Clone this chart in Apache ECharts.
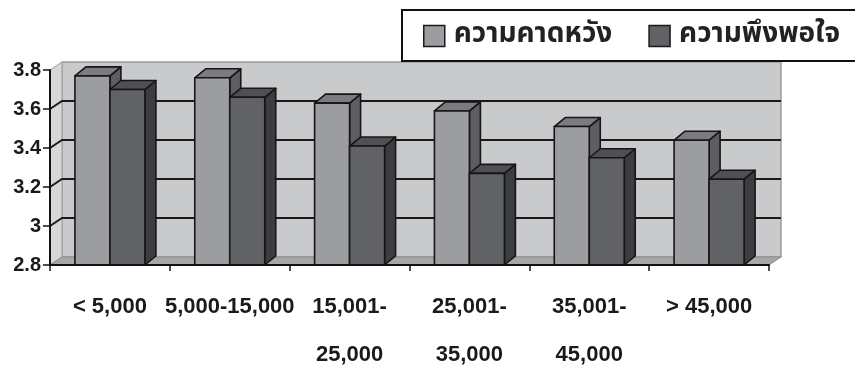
<!DOCTYPE html>
<html>
<head>
<meta charset="utf-8">
<script src="https://cdn.jsdelivr.net/npm/echarts@6/dist/echarts.min.js"></script>
<style>
  html, body { margin: 0; padding: 0; background: #fff; }
  #chart { width: 855px; height: 367px; }
</style>
</head>
<body>
<div id="chart"></div>
<script>
// Income bands and the two survey scores for each band
const categories = ['< 5,000', '5,000-15,000', '15,001-\n25,000', '25,001-\n35,000', '35,001-\n45,000', '> 45,000'];
const expectation = [3.77, 3.76, 3.63, 3.59, 3.51, 3.44];
const satisfaction = [3.70, 3.66, 3.41, 3.27, 3.35, 3.24];
const seriesNames = ['ความคาดหวัง', 'ความพึงพอใจ'];
const yTicks = [2.8, 3.0, 3.2, 3.4, 3.6, 3.8];

// depth offsets for the pseudo-3D look
const WALL_DX = 12, WALL_DY = -8;
const BAR_DX = 11, BAR_DY = -9;
const BAR_FRACTION = 0.292;
const Y_MIN = yTicks[0], Y_MAX = yTicks[yTicks.length - 1];

const palette = [
  { front: '#9c9da0', top: '#7b7c7f', side: '#5d5e61' },
  { front: '#616265', top: '#4f5053', side: '#3c3d40' }
];
const EDGE = '#161616';

function wallRenderer(params, api) {
  const cs = params.coordSys;
  const left = cs.x, right = cs.x + cs.width;
  const yTop = api.coord([0, Y_MAX])[1];
  const yBot = api.coord([0, Y_MIN])[1];
  return {
    type: 'group',
    children: [
      { type: 'polygon', shape: { points: [[left + WALL_DX, yTop + WALL_DY], [right + WALL_DX, yTop + WALL_DY], [right + WALL_DX, yBot + WALL_DY], [left + WALL_DX, yBot + WALL_DY]] },
        style: { fill: '#c9cacc', stroke: '#9b9c9e', lineWidth: 1.5 } },
      { type: 'polygon', shape: { points: [[left, yTop], [left + WALL_DX, yTop + WALL_DY], [left + WALL_DX, yBot + WALL_DY], [left, yBot]] },
        style: { fill: '#d6d7d9', stroke: '#9b9c9e', lineWidth: 1 } },
      { type: 'polygon', shape: { points: [[left, yBot], [left + WALL_DX, yBot + WALL_DY], [right + WALL_DX, yBot + WALL_DY], [right, yBot]] },
        style: { fill: '#a6a7aa', stroke: '#8a8b8d', lineWidth: 1 } }
    ]
  };
}

function gridRenderer(params, api) {
  const cs = params.coordSys;
  const left = cs.x, right = cs.x + cs.width;
  const y = api.coord([0, api.value(0)])[1];
  return {
    type: 'polyline',
    shape: { points: [[left, y], [left + WALL_DX, y + WALL_DY], [right + WALL_DX, y + WALL_DY]] },
    style: { stroke: '#1a1a1a', lineWidth: 2, fill: null }
  };
}

function barRenderer(slot) {
  const c = palette[slot];
  return function (params, api) {
    const idx = api.value(0);
    const val = api.value(1);
    const topPt = api.coord([idx, val]);
    const basePt = api.coord([idx, Y_MIN]);
    const band = api.size([1, 0])[0];
    const w = band * BAR_FRACTION;
    const x0 = topPt[0] + (slot === 0 ? -w : 0);
    const x1 = x0 + w;
    const yT = topPt[1], yB = basePt[1];
    const stroke = { stroke: EDGE, lineWidth: 1.6, lineJoin: 'round' };
    return {
      type: 'group',
      children: [
        { type: 'polygon', shape: { points: [[x1, yT], [x1 + BAR_DX, yT + BAR_DY], [x1 + BAR_DX, yB + BAR_DY], [x1, yB]] },
          style: Object.assign({ fill: c.side }, stroke) },
        { type: 'polygon', shape: { points: [[x0, yT], [x0 + BAR_DX, yT + BAR_DY], [x1 + BAR_DX, yT + BAR_DY], [x1, yT]] },
          style: Object.assign({ fill: c.top }, stroke) },
        { type: 'rect', shape: { x: x0, y: yT, width: w, height: yB - yT },
          style: Object.assign({ fill: c.front }, stroke) }
      ]
    };
  };
}

const chart = echarts.init(document.getElementById('chart'), null, { renderer: 'canvas' });
chart.setOption({
  backgroundColor: '#ffffff',
  animation: false,
  textStyle: { fontFamily: 'Liberation Sans, Arial, sans-serif' },
  legend: {
    data: seriesNames,
    orient: 'horizontal',
    left: 402,
    top: 10,
    width: 520,
    padding: [12, 60, 11, 21],
    itemGap: 36,
    itemWidth: 21,
    itemHeight: 21,
    icon: 'rect',
    backgroundColor: '#ffffff',
    borderColor: '#111111',
    borderWidth: 2,
    borderRadius: 0,
    itemStyle: { borderColor: '#1a1a1a', borderWidth: 1.5 },
    textStyle: { fontSize: 28, fontWeight: 'bold', color: '#222', lineHeight: 28,
      fontFamily: 'Noto Sans Thai, Noto Sans, sans-serif', padding: [0, 0, 0, 4] }
  },
  grid: { left: 50, right: 86, top: 70, bottom: 102, containLabel: false, outerBoundsMode: 'none' },
  xAxis: {
    type: 'category',
    data: categories,
    z: 6,
    axisLine: { lineStyle: { color: '#111', width: 2 } },
    axisTick: { show: true, length: 6, interval: 0, lineStyle: { color: '#111', width: 1.5 } },
    axisLabel: {
      interval: 0, margin: 18, color: '#1a1a1a', fontSize: 22, fontWeight: 'bold',
      lineHeight: 48, fontFamily: 'Liberation Sans, Arial, sans-serif'
    },
    splitLine: { show: false }
  },
  yAxis: {
    type: 'value',
    min: Y_MIN, max: Y_MAX, interval: 0.2,
    z: 6,
    axisLine: { show: true, lineStyle: { color: '#111', width: 2 } },
    axisTick: { show: true, length: 7, lineStyle: { color: '#111', width: 1.5 } },
    axisLabel: {
      margin: 9, color: '#1a1a1a', fontSize: 20, fontWeight: 'bold',
      fontFamily: 'Liberation Sans, Arial, sans-serif'
    },
    splitLine: { show: false }
  },
  series: [
    { type: 'custom', name: 'wall', renderItem: wallRenderer, data: [[0]], silent: true, z: 1 },
    { type: 'custom', name: 'grid', renderItem: gridRenderer,
      data: yTicks.slice(1, -1).map(v => [v]), silent: true, z: 1 },
    { type: 'custom', name: seriesNames[0], renderItem: barRenderer(0),
      itemStyle: { color: palette[0].front },
      data: expectation.map((v, i) => [i, v]), z: 3 },
    { type: 'custom', name: seriesNames[1], renderItem: barRenderer(1),
      itemStyle: { color: palette[1].front },
      data: satisfaction.map((v, i) => [i, v]), z: 3 }
  ]
});
</script>
</body>
</html>
